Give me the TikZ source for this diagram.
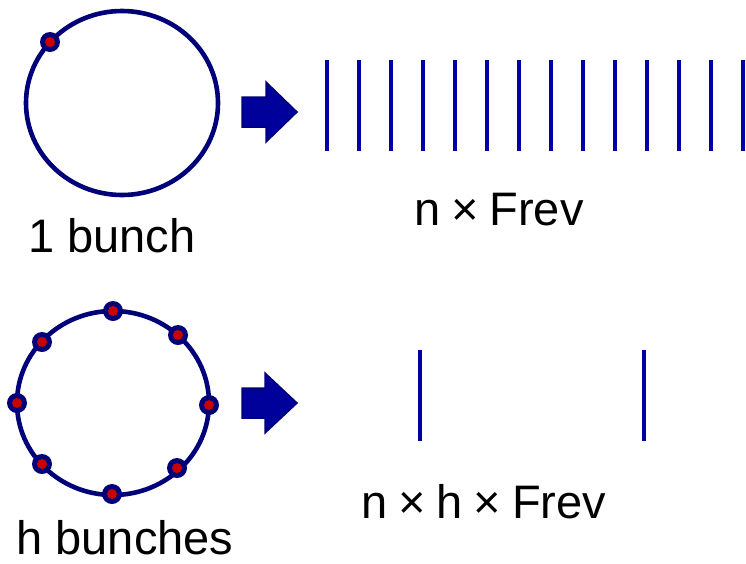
\documentclass[tikz,border=0pt]{standalone}
\usepackage{fontspec}
\setmainfont{Liberation Sans}
\definecolor{ringblue}{RGB}{0,0,120}
\definecolor{lineblue}{RGB}{0,0,160}
\definecolor{arrowfill}{RGB}{0,0,155}
\definecolor{dotred}{RGB}{200,0,0}
\tikzset{
  ring/.style={draw=ringblue, line width=4.6pt},
  pulse/.style={draw=lineblue, line width=4pt},
  bigarrow/.style={fill=arrowfill, draw=ringblue, line width=1.5pt, line join=miter},
  lbl/.style={inner sep=0pt, anchor=base, font=\fontsize{47}{56}\selectfont},
}
\newcommand{\bunchdot}[1]{%
  \fill[ringblue] (#1) circle (10pt);
  \fill[dotred] (#1) circle (5pt);}
\newcommand{\tms}{\hspace{0.23em}×\hspace{0.23em}}
\begin{document}
\begin{tikzpicture}[x=1pt,y=-1pt]
\useasboundingbox (0,0) rectangle (746,563);
% top: one bunch
\draw[ring] (122,103) ellipse [x radius=96pt, y radius=92pt];
\coordinate (d1) at (50,42);
\bunchdot{d1}
\node[lbl] (t1) at (112,252) {1 bunch};
\draw[bigarrow] (242,97) -- (266,97) -- (266,82) -- (297,112) -- (266,142) -- (266,127) -- (242,127) -- cycle;
\foreach \i in {0,...,13}{
  \draw[pulse] (327+32*\i,60) -- (327+32*\i,151);
}
\node[lbl] (f1) at (499,225) {n\tms Frev};
% bottom: h bunches
\draw[ring] (113,403) ellipse [x radius=96pt, y radius=92pt];
\foreach \n/\x/\y in {1/113/311, 2/178/335, 3/209/405, 4/177/468, 5/112/494, 6/42/464, 7/17/403, 8/42/342}{
  \coordinate (b\n) at (\x,\y);
  \bunchdot{b\n}
}
\node[lbl] (t2) at (125,554) {h bunches};
\draw[bigarrow] (242,388) -- (265,388) -- (265,373) -- (297,403) -- (265,433) -- (265,418) -- (242,418) -- cycle;
\draw[pulse] (420,350) -- (420,441);
\draw[pulse] (644,350) -- (644,441);
\node[lbl] (f2) at (484,518) {n\tms h\tms Frev};
\end{tikzpicture}
\end{document}
